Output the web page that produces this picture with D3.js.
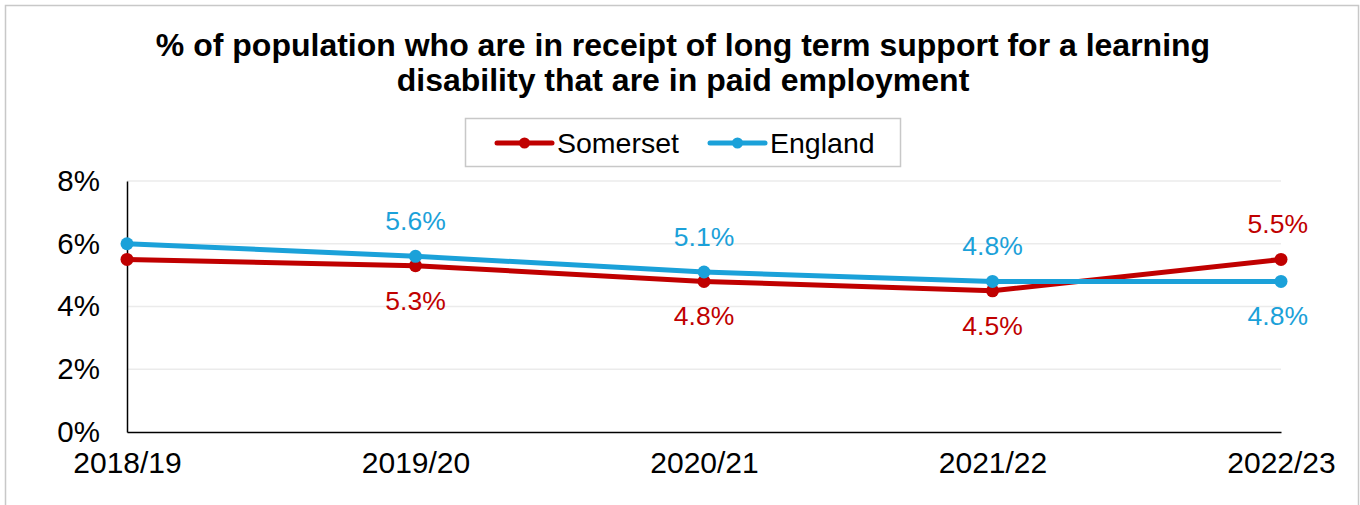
<!DOCTYPE html>
<html><head><meta charset="utf-8">
<script src="https://cdn.jsdelivr.net/npm/d3@7"></script>
<style>body{margin:0;background:#fff}svg{display:block;font-family:Arial,"Liberation Sans",sans-serif}</style>
</head><body><svg id="c" width="1360" height="505"></svg>
<script>
const categories = ["2018/19","2019/20","2020/21","2021/22","2022/23"];
const somerset = [5.5, 5.3, 4.8, 4.5, 5.5];
const england = [6.0, 5.6, 5.1, 4.8, 4.8];
const yTicks = [0, 2, 4, 6, 8];
const titleLines = ["% of population who are in receipt of long term support for a learning","disability that are in paid employment"];
// label positions: 1 = above, -1 = below, 0 = hidden
const somersetLabelPos = [0, -1, -1, -1, 1];
const englandLabelPos = [0, 1, 1, 1, -1];

const series = [
  {name:"Somerset", values:somerset, color:"#C00000", pos:somersetLabelPos},
  {name:"England", values:england, color:"#1BA1D9", pos:englandLabelPos}
];

const svg = d3.select("#c");
svg.append("rect").attr("x",5.5).attr("y",5.5).attr("width",1353).attr("height",520)
  .attr("fill","#fff").attr("stroke","#c8c8c8").attr("stroke-width",1.5);

const x = d3.scalePoint().domain(categories).range([127,1281]);
const y = d3.scaleLinear().domain([0,8]).range([432,181]);

// title
svg.append("g").selectAll("text").data(titleLines).join("text")
  .attr("x",683).attr("y",(d,i)=>56+i*35).attr("text-anchor","middle")
  .attr("font-size",32).attr("font-weight","bold").attr("fill","#000").text(d=>d);

// gridlines
svg.append("g").selectAll("line").data(yTicks.filter(t=>t>0)).join("line")
  .attr("x1",127).attr("x2",1281).attr("y1",d=>y(d)).attr("y2",d=>y(d))
  .attr("stroke","#ebebeb").attr("stroke-width",1.5);

// y axis
const yAxis = svg.append("g").attr("transform","translate(127,0)")
  .call(d3.axisLeft(y).tickValues(yTicks).tickFormat(d=>d+"%").tickSize(0).tickPadding(27));
yAxis.select(".domain").attr("stroke","#000").attr("stroke-width",1.5);
yAxis.selectAll("text").attr("font-size",29.5).attr("fill","#000").attr("font-family","Arial,'Liberation Sans',sans-serif");

// x axis
const xAxis = svg.append("g").attr("transform","translate(0,432)")
  .call(d3.axisBottom(x).tickSize(0).tickPadding(20));
xAxis.select(".domain").attr("stroke","#000").attr("stroke-width",1.5);
xAxis.selectAll("text").attr("font-size",30).attr("fill","#000").attr("font-family","Arial,'Liberation Sans',sans-serif");

// lines
const line = d3.line().x((d,i)=>x(categories[i])).y(d=>y(d));
series.forEach(s=>{
  svg.append("path").datum(s.values).attr("d",line).attr("fill","none")
    .attr("stroke",s.color).attr("stroke-width",5).attr("stroke-linejoin","round").attr("stroke-linecap","round");
});
series.forEach(s=>{
  svg.append("g").selectAll("circle").data(s.values).join("circle")
    .attr("cx",(d,i)=>x(categories[i])).attr("cy",d=>y(d)).attr("r",6.5).attr("fill",s.color);
});
// data labels
series.forEach(s=>{
  svg.append("g").selectAll("text").data(s.values.map((v,i)=>({v,i})).filter(d=>s.pos[d.i]!==0)).join("text")
    .attr("x",d=>x(categories[d.i])).attr("y",d=>y(d.v) - s.pos[d.i]*35 + 9)
    .attr("text-anchor",d=>d.i===categories.length-1?"end":"middle")
    .attr("dx",d=>d.i===categories.length-1?27:0)
    .attr("font-size",26.5).attr("fill",s.color).text(d=>d.v.toFixed(1)+"%");
});

// legend
const lg = svg.append("g");
lg.append("rect").attr("x",465.5).attr("y",118.5).attr("width",435).attr("height",48)
  .attr("fill","#fff").attr("stroke","#c8c8c8").attr("stroke-width",1.5);
const legX = [497, 710];
series.forEach((s,i)=>{
  const g = lg.append("g").attr("transform",`translate(${legX[i]},143)`);
  g.append("line").attr("x1",0).attr("x2",55).attr("stroke",s.color).attr("stroke-width",5).attr("stroke-linecap","round");
  g.append("circle").attr("cx",27.5).attr("r",5.5).attr("fill",s.color);
  g.append("text").attr("x",60).attr("y",10).attr("font-size",28.5).attr("fill","#000").text(s.name);
});
</script></body></html>
